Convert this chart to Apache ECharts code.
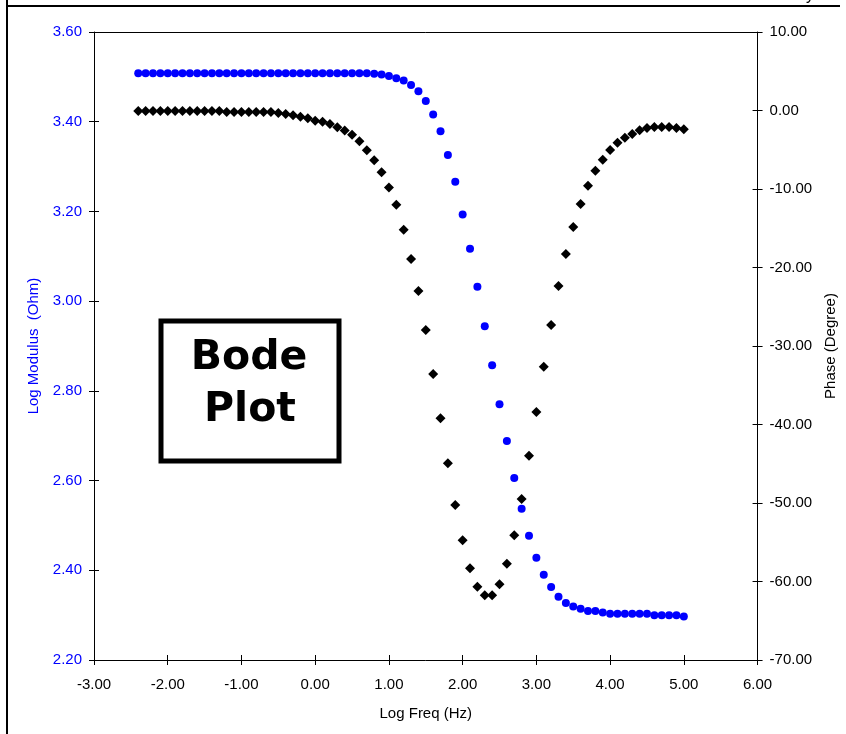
<!DOCTYPE html>
<html>
<head>
<meta charset="utf-8">
<script src="https://cdn.jsdelivr.net/npm/echarts@6/dist/echarts.min.js"></script>
<style>
html,body{margin:0;padding:0;background:#fff;}
#chart{width:846px;height:734px;}
</style>
</head>
<body>
<div id="chart"></div>
<script>
// Log frequency (Hz), 10 points per decade
var logFreq = [-2.4,-2.3,-2.2,-2.1,-2.0,-1.9,-1.8,-1.7,-1.6,-1.5,-1.4,-1.3,-1.2,-1.1,-1.0,-0.9,-0.8,-0.7,-0.6,-0.5,-0.4,-0.3,-0.2,-0.1,0.0,0.1,0.2,0.3,0.4,0.5,0.6,0.7,0.8,0.9,1.0,1.1,1.2,1.3,1.4,1.5,1.6,1.7,1.8,1.9,2.0,2.1,2.2,2.3,2.4,2.5,2.6,2.7,2.8,2.9,3.0,3.1,3.2,3.3,3.4,3.5,3.6,3.7,3.8,3.9,4.0,4.1,4.2,4.3,4.4,4.5,4.6,4.7,4.8,4.9,5.0];

// Log Modulus (Ohm)
var logModulus = [3.508,3.508,3.508,3.508,3.508,3.508,3.508,3.508,3.508,3.508,3.508,3.508,3.508,3.508,3.508,3.508,3.508,3.508,3.508,3.508,3.508,3.508,3.508,3.508,3.508,3.508,3.508,3.508,3.508,3.508,3.508,3.508,
 3.507,3.505,3.502,3.497,3.492,3.482,3.468,3.446,3.416,3.379,3.326,3.266,3.193,3.117,3.032,2.944,2.857,2.770,2.688,2.606,2.537,2.477,2.428,2.390,2.363,2.341,2.327,2.319,2.314,2.309,2.309,2.306,2.303,2.303,2.303,2.303,2.303,2.303,2.300,2.300,2.300,2.300,2.297];

// Phase (Degree)
var phase = [-0.05,-0.05,-0.05,-0.05,-0.05,-0.05,-0.05,-0.05,-0.05,-0.05,-0.05,-0.05,-0.19,-0.19,-0.19,-0.19,-0.19,-0.19,-0.19,
 -0.32,-0.45,-0.62,-0.80,-1.0,-1.3,-1.42,-1.72,-2.12,-2.55,-3.1,-3.92,-5.05,-6.33,-7.87,-9.8,-12.0,-15.18,-18.92,-23.0,-27.96,-33.57,-39.2,-44.94,-50.25,-54.75,-58.32,-60.66,-61.76,-61.76,-60.36,-57.73,-54.11,-49.49,-43.97,-38.41,-32.64,-27.32,-22.36,-18.28,-14.84,-11.91,-9.58,-7.67,-6.27,-5.03,-4.10,-3.46,-2.99,-2.52,-2.23,-2.10,-2.10,-2.10,-2.23,-2.39];

var modSeries = logFreq.map(function(x,i){return [x, logModulus[i]];});
var phaseSeries = logFreq.map(function(x,i){return [x, phase[i]];});

var FONT = "'Liberation Sans', Arial, sans-serif";
function fmt(v){ return (Math.abs(v) < 1e-9 ? 0 : v).toFixed(2); }

var chart = echarts.init(document.getElementById('chart'), null, {renderer:'canvas'});
var axisLineBlack = {show:true, onZero:false, lineStyle:{color:'#000', width:1}};
var noLine = {show:false, onZero:false};

chart.setOption({
  backgroundColor:'#fff',
  animation:false,
  grid:{left:94, right:86, top:32, bottom:74, containLabel:false},
  xAxis:[
    {type:'value', min:-3, max:6, interval:1, position:'bottom',
     axisLine:axisLineBlack, axisTick:{show:true, inside:false, length:5, lineStyle:{color:'#000'}},
     axisLabel:{formatter:fmt, color:'#000', fontSize:15, fontFamily:FONT, margin:17},
     splitLine:{show:false},
     name:'Log Freq (Hz)', nameLocation:'middle', nameGap:46,
     nameTextStyle:{color:'#000', fontSize:15, fontFamily:FONT}},
    {type:'value', min:-3, max:6, interval:1, position:'bottom',
     axisLine:noLine, axisTick:{show:true, inside:true, length:5, lineStyle:{color:'#000'}},
     axisLabel:{show:false}, splitLine:{show:false}},
    {type:'value', min:-3, max:6, interval:1, position:'top',
     axisLine:axisLineBlack, axisTick:{show:false}, axisLabel:{show:false}, splitLine:{show:false}}
  ],
  yAxis:[
    {type:'value', min:2.2, max:3.6, interval:0.2, position:'left',
     axisLine:axisLineBlack, axisTick:{show:true, inside:false, length:5, lineStyle:{color:'#000'}},
     axisLabel:{formatter:fmt, color:'#0000ff', fontSize:15, fontFamily:FONT, margin:12},
     splitLine:{show:false},
     name:'Log Modulus  (Ohm)', nameLocation:'middle', nameGap:53, nameRotate:90,
     nameTextStyle:{color:'#0000ff', fontSize:15, fontFamily:FONT}},
    {type:'value', min:-70, max:10, interval:10, position:'right',
     axisLine:axisLineBlack, axisTick:{show:true, inside:false, length:5, lineStyle:{color:'#000'}},
     axisLabel:{formatter:fmt, color:'#000', fontSize:15, fontFamily:FONT, margin:12},
     splitLine:{show:false},
     name:'Phase (Degree)', nameLocation:'middle', nameGap:62, nameRotate:90,
     nameTextStyle:{color:'#000', fontSize:15, fontFamily:FONT}},
    {type:'value', min:2.2, max:3.6, interval:0.2, position:'left',
     axisLine:noLine, axisTick:{show:true, inside:true, length:5, lineStyle:{color:'#000'}},
     axisLabel:{show:false}, splitLine:{show:false}},
    {type:'value', min:-70, max:10, interval:10, position:'right',
     axisLine:noLine, axisTick:{show:true, inside:true, length:5, lineStyle:{color:'#000'}},
     axisLabel:{show:false}, splitLine:{show:false}}
  ],
  series:[
    {name:'Log Modulus', type:'scatter', xAxisIndex:0, yAxisIndex:0, data:modSeries,
     symbol:'circle', symbolSize:8, itemStyle:{color:'#0000ff', opacity:1}},
    {name:'Phase', type:'scatter', xAxisIndex:0, yAxisIndex:1, data:phaseSeries,
     symbol:'diamond', symbolSize:10, itemStyle:{color:'#000', opacity:1}}
  ],
  graphic:[
    {type:'line', shape:{x1:7, y1:0, x2:7, y2:734}, style:{stroke:'#000', lineWidth:2}, silent:true},
    {type:'line', shape:{x1:6, y1:6, x2:840, y2:6}, style:{stroke:'#000', lineWidth:2}, silent:true},
    {type:'text', left:806, top:-12, style:{text:'y', fontSize:16, fontFamily:FONT, fill:'#000'}, silent:true},
    {type:'rect', shape:{x:161, y:321, width:178, height:140}, style:{fill:'#fff', stroke:'#000', lineWidth:5}, silent:true},
    {type:'text', x:249, y:358, style:{text:'Bode', fontSize:41, fontWeight:'bold', fontFamily:"'DejaVu Sans', Verdana, sans-serif", fill:'#000', textAlign:'center', textVerticalAlign:'middle'}, silent:true},
    {type:'text', x:250, y:410, style:{text:'Plot', fontSize:41, fontWeight:'bold', fontFamily:"'DejaVu Sans', Verdana, sans-serif", fill:'#000', textAlign:'center', textVerticalAlign:'middle'}, silent:true}
  ]
});
</script>
</body>
</html>
